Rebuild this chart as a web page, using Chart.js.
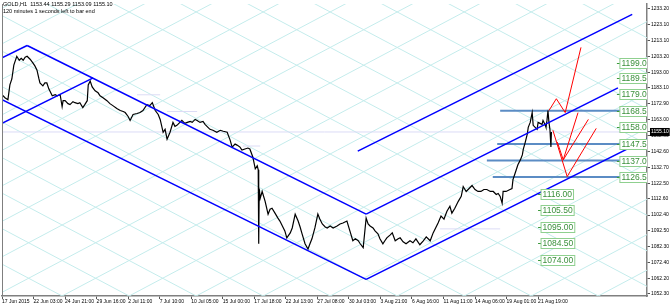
<!DOCTYPE html>
<html>
<head>
<meta charset="utf-8">
<script src="https://cdn.jsdelivr.net/npm/chart.js@4.4.1/dist/chart.umd.min.js"></script>
<style>
    html, body { margin: 0; padding: 0; background: #fff; }
    #wrap { position: relative; width: 670px; height: 307px; }
    #hdr { position: absolute; left: 3px; top: 1px; font: 5.5px 'Liberation Sans', Arial, sans-serif; line-height: 6.5px; color: #000; white-space: pre; }
</style>
</head>
<body>
<div id="wrap">
    <canvas id="gold-chart" width="670" height="307"></canvas>
    <div id="hdr">GOLD,H1  1153.44 1155.29 1153.09 1155.10
120 minutes 1 seconds left to bar end</div>
</div>
<script>
// H1 bars, x = bar number from 17 Jun 2015
const xTickBars = [0, 64, 128, 192, 256, 320, 384, 448, 512, 576, 640, 704, 768, 832, 896, 960, 1024, 1088];
const xTickLabels = ['17 Jun 2015', '22 Jun 03:00', '24 Jun 21:00', '29 Jun 16:00', '2 Jul 11:00', '7 Jul 10:00',
    '10 Jul 05:00', '15 Jul 00:00', '17 Jul 18:00', '22 Jul 13:00', '27 Jul 08:00', '30 Jul 03:00',
    '3 Aug 21:00', '6 Aug 16:00', '11 Aug 11:00', '14 Aug 06:00', '19 Aug 01:00', '21 Aug 19:00'];
const yTickValues = [1233.20, 1223.10, 1213.10, 1203.20, 1193.00, 1183.10, 1172.90, 1163.00, 1152.80, 1142.60,
    1132.70, 1122.50, 1112.60, 1102.40, 1092.50, 1082.30, 1072.40, 1062.20, 1052.30];
const bidPrice = 1155.10;

const priceBars = [0, 6, 12, 16, 20, 24, 30, 35, 39, 43, 47, 51, 57, 63, 67, 71, 75, 77, 83, 87, 91, 95, 102, 108, 112, 118,
    122, 124, 128, 134, 138, 144, 148, 154, 158, 164, 168, 173, 175, 179, 183, 189, 195, 199, 205, 213, 219, 225, 233, 240,
    246, 250, 256, 260, 266, 274, 280, 286, 294, 300, 305, 311, 317, 321, 327, 331, 335, 341, 347, 351, 355, 361, 365, 371,
    376, 382, 386, 392, 396, 402, 408, 412, 418, 422, 428, 436, 443, 449, 457, 463, 467, 473, 477, 483, 487, 493, 499, 503,
    509, 514, 518, 520, 521, 522, 524, 528, 534, 540, 544, 548, 554, 560, 564, 570, 574, 578, 585, 589, 595, 601, 605, 609,
    615, 621, 625, 629, 635, 641, 645, 650, 656, 660, 666, 672, 680, 686, 692, 700, 706, 712, 717, 723, 727, 733, 739, 743,
    747, 753, 757, 763, 767, 773, 777, 781, 788, 792, 798, 804, 808, 814, 820, 828, 834, 840, 848, 855, 861, 869, 875, 881,
    885, 891, 897, 903, 909, 913, 919, 926, 932, 936, 942, 948, 954, 960, 966, 972, 978, 984, 991, 997, 1003, 1007, 1011,
    1015, 1017, 1023, 1031, 1035, 1037, 1041, 1047, 1052, 1056, 1058, 1062, 1066, 1068, 1072, 1074, 1076, 1078, 1082, 1086,
    1088, 1092, 1096, 1098, 1102, 1104, 1106, 1108, 1110, 1112, 1114, 1115];
const priceClose = [1178.72, 1176.84, 1175.59, 1184.98, 1188.74, 1197.51, 1203.14, 1200.64, 1201.89, 1200.64, 1202.52,
    1203.14, 1201.26, 1198.76, 1196.88, 1194.37, 1188.74, 1186.23, 1184.36, 1186.23, 1186.23, 1182.48, 1178.09, 1178.72,
    1178.09, 1178.72, 1171.21, 1174.96, 1174.96, 1173.08, 1172.46, 1174.34, 1173.71, 1173.08, 1173.71, 1170.58, 1172.46,
    1174.96, 1184.98, 1187.49, 1183.73, 1181.22, 1179.97, 1178.09, 1176.84, 1174.96, 1173.08, 1171.83, 1169.95, 1168.70,
    1168.07, 1167.45, 1164.94, 1162.44, 1166.20, 1166.82, 1167.45, 1168.70, 1172.46, 1171.83, 1173.71, 1168.70, 1166.20,
    1163.06, 1154.92, 1156.80, 1150.54, 1154.92, 1161.19, 1158.68, 1159.31, 1161.19, 1162.44, 1160.56, 1161.19, 1161.81,
    1161.19, 1163.06, 1162.44, 1161.19, 1161.81, 1159.93, 1158.05, 1156.80, 1156.18, 1154.92, 1156.18, 1155.55, 1154.92,
    1149.91, 1145.53, 1147.41, 1146.78, 1145.53, 1143.65, 1144.28, 1144.90, 1144.28, 1139.27, 1131.75, 1133.63, 1131.13,
    1084.16, 1119.23, 1112.97, 1117.35, 1111.09, 1102.95, 1106.08, 1106.71, 1103.58, 1100.44, 1098.57, 1094.81, 1092.30,
    1087.92, 1091.05, 1094.18, 1102.95, 1098.57, 1094.81, 1090.43, 1084.16, 1080.78, 1084.16, 1087.29, 1094.18, 1102.95,
    1099.82, 1096.69, 1094.81, 1094.18, 1095.43, 1094.18, 1095.43, 1096.69, 1097.31, 1098.57, 1092.30, 1086.04, 1087.29,
    1086.04, 1084.16, 1081.66, 1100.44, 1096.69, 1095.43, 1094.18, 1092.30, 1090.43, 1087.29, 1084.16, 1086.04, 1087.92,
    1089.80, 1091.05, 1086.04, 1087.29, 1087.92, 1085.42, 1084.16, 1086.04, 1084.79, 1087.29, 1083.54, 1086.04, 1088.55,
    1086.04, 1091.05, 1094.81, 1097.31, 1101.70, 1099.82, 1104.83, 1107.96, 1103.58, 1106.71, 1111.09, 1114.22, 1120.48,
    1117.35, 1119.23, 1121.11, 1118.60, 1117.35, 1117.35, 1118.60, 1118.60, 1117.35, 1117.35, 1115.47, 1116.10, 1114.22,
    1109.84, 1117.35, 1117.35, 1118.60, 1119.23, 1124.87, 1128.62, 1134.26, 1137.39, 1140.52, 1144.28, 1148.67, 1153.67,
    1158.05, 1161.19, 1164.32, 1167.45, 1159.31, 1158.05, 1156.80, 1161.19, 1160.56, 1159.93, 1162.44, 1159.93, 1158.05,
    1162.44, 1168.70, 1161.19, 1156.80, 1145.53, 1155.10];

// trend channels: [bar, price] end points
const channelLines = [
    [[0, 1202.1], [51, 1210.0]],
    [[51, 1210.0], [739, 1103.0]],
    [[0, 1160.6], [185, 1189.4]],
    [[0, 1175.6], [739, 1061.6]],
    [[739, 1061.6], [1309, 1150.5]],
    [[739, 1103.0], [1250, 1183.1]],
    [[722, 1143.0], [1279, 1229.7]]
];
// red scenario paths
const scenarioPaths = [
    [[1110, 1168.7], [1125, 1176.2], [1143, 1167.4], [1175, 1208.8]],
    [[1118, 1156.2], [1147, 1126.8], [1206, 1157.4]],
    [[1127, 1148.7], [1139, 1137.4], [1169, 1167.4]],
    [[1139, 1137.4], [1190, 1163.1]]
];
// horizontal levels
const levelPrices = [1168.5, 1147.5, 1137.0, 1126.5];
const levelStartBars = [1011, 1005, 984, 996];
const levelEndBar = 1254;
// price labels
const upperLabelPrices = [1199.0, 1189.5, 1179.0, 1168.5, 1158.0, 1147.5, 1137.0, 1126.5];
const lowerLabelPrices = [1116.0, 1105.5, 1095.0, 1084.5, 1074.0];
const upperLabelBar = 1254;
const lowerLabelBar = 1094;
// faint horizontal rays
const faintLines = [
    [[0, 1155.1], [1309, 1155.1]],
    [[274, 1178.7], [321, 1178.7]],
    [[335, 1168.1], [396, 1168.1]],
    [[489, 1146.2], [524, 1146.2]],
    [[889, 1093.6], [1011, 1093.6]]
];
// gann grid
const gannAnchor = { bar: 122, price: 1051.0 };
const gannStepBars = 136;
const gannSlope = 0.1657;

const X_MAX = 1309;
const Y_MIN = 1051.0;
const Y_MAX = 1236.33;

const toPts = arr => arr.map(p => ({ x: p[0], y: p[1] }));
const lineSet = (data, color, width, order) => ({
    data: data, borderColor: color, borderWidth: width, pointRadius: 0, tension: 0, fill: false, order: order
});

const datasets = [];
channelLines.forEach(l => datasets.push(lineSet(toPts(l), '#0000ff', 1.5, 0)));
scenarioPaths.forEach(l => datasets.push(lineSet(toPts(l), '#ff0000', 1, 0)));
datasets.push(lineSet(priceBars.map((b, i) => ({ x: b, y: priceClose[i] })), '#000000', 1.2, 1));
levelPrices.forEach((p, i) => datasets.push(lineSet(toPts([[levelStartBars[i], p], [levelEndBar, p]]), '#5b8cc4', 2, 2)));
faintLines.forEach(l => datasets.push(lineSet(toPts(l), '#dcdcf6', 1, 3)));

const gannGrid = {
    id: 'gannGrid',
    beforeDatasetsDraw(chart) {
        const { ctx, chartArea, scales: { x, y } } = chart;
        ctx.save();
        ctx.beginPath();
        ctx.rect(chartArea.left, chartArea.top, chartArea.right - chartArea.left, chartArea.bottom - chartArea.top);
        ctx.clip();
        ctx.strokeStyle = '#c4ecec';
        ctx.lineWidth = 1;
        const span = 2000;
        for (let k = -20; k <= 20; k++) {
            const b0 = gannAnchor.bar + k * gannStepBars;
            [1, -1].forEach(dir => {
                ctx.beginPath();
                ctx.moveTo(x.getPixelForValue(b0 - span), y.getPixelForValue(gannAnchor.price - dir * gannSlope * span));
                ctx.lineTo(x.getPixelForValue(b0 + span), y.getPixelForValue(gannAnchor.price + dir * gannSlope * span));
                ctx.stroke();
            });
        }
        ctx.restore();
    }
};

const priceLabels = {
    id: 'priceLabels',
    afterDatasetsDraw(chart) {
        const { ctx, chartArea, scales: { x, y } } = chart;
        ctx.save();
        ctx.beginPath();
        ctx.rect(chartArea.left, chartArea.top, chartArea.right - chartArea.left, chartArea.bottom - chartArea.top);
        ctx.clip();
        ctx.font = '8.5px "Liberation Sans", Arial, sans-serif';
        ctx.textBaseline = 'middle';
        const draw = (prices, bar) => {
            const px = x.getPixelForValue(bar);
            prices.forEach(p => {
                const py = Math.round(y.getPixelForValue(p)) + 0.5;
                ctx.strokeStyle = '#3c9a3c';
                ctx.lineWidth = 1;
                ctx.beginPath();
                ctx.moveTo(px - 3, py);
                ctx.lineTo(px, py);
                ctx.stroke();
                const txt = p.toFixed(2);
                const w = ctx.measureText(txt).width + 3;
                ctx.fillStyle = '#ffffff';
                ctx.fillRect(px, py - 5, w, 10);
                ctx.strokeStyle = '#8fd08f';
                ctx.strokeRect(px, py - 5, w, 10);
                ctx.fillStyle = '#3a8f3a';
                ctx.fillText(txt, px + 1.5, py + 0.5);
            });
        };
        draw(upperLabelPrices, upperLabelBar);
        draw(lowerLabelPrices, lowerLabelBar);
        ctx.restore();
        // left frame line
        ctx.save();
        ctx.strokeStyle = '#7f7f7f';
        ctx.lineWidth = 1;
        ctx.beginPath();
        ctx.moveTo(chartArea.left + 0.5, chartArea.top);
        ctx.lineTo(chartArea.left + 0.5, chartArea.bottom);
        ctx.stroke();
        ctx.restore();
    }
};

new Chart(document.getElementById('gold-chart'), {
    type: 'line',
    data: { datasets: datasets },
    options: {
        responsive: false,
        animation: false,
        parsing: false,
        normalized: true,
        layout: { padding: { left: 2, top: 0, right: 0, bottom: 0 } },
        plugins: { legend: { display: false }, tooltip: { enabled: false } },
        scales: {
            x: {
                type: 'linear',
                position: 'bottom',
                min: 0,
                max: X_MAX,
                afterBuildTicks: scale => { scale.ticks = xTickBars.map(v => ({ value: v })); },
                afterFit: scale => { scale.height = 11; },
                grid: { drawOnChartArea: false, drawTicks: true, tickLength: 3, color: '#555' },
                border: { display: true, color: '#808080', width: 1.5 },
                ticks: {
                    autoSkip: false,
                    maxRotation: 0,
                    align: 'start',
                    padding: 0,
                    color: '#000',
                    font: { family: 'Liberation Sans', size: 5 },
                    callback: (v, i) => xTickLabels[i]
                }
            },
            y: {
                type: 'linear',
                position: 'right',
                min: Y_MIN,
                max: Y_MAX,
                afterBuildTicks: scale => { scale.ticks = yTickValues.concat([bidPrice]).map(v => ({ value: v })); },
                afterFit: scale => { scale.width = 23; },
                grid: { drawOnChartArea: false, drawTicks: true, tickLength: 3, color: '#555' },
                border: { display: true, color: '#808080', width: 1.5 },
                ticks: {
                    autoSkip: false,
                    padding: 1,
                    font: { family: 'Liberation Sans', size: 5 },
                    color: ctx => (ctx.tick && ctx.tick.value === bidPrice ? '#ffffff' : '#000000'),
                    showLabelBackdrop: ctx => !!(ctx.tick && ctx.tick.value === bidPrice),
                    backdropColor: '#000000',
                    backdropPadding: 1,
                    callback: v => v.toFixed(2)
                }
            }
        }
    },
    plugins: [gannGrid, priceLabels]
});
</script>
</body>
</html>
